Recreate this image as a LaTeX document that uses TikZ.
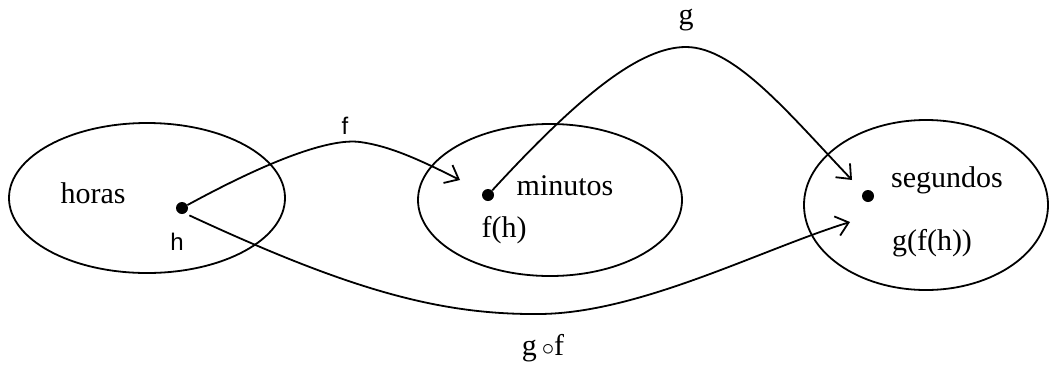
\documentclass[tikz,border=0pt]{standalone}
\usepackage{fontspec}
\setmainfont{Liberation Serif}
\newfontfamily\lblsans{Liberation Sans}
\usetikzlibrary{arrows.meta}
\begin{document}
\begin{tikzpicture}[x=1pt,y=-1pt,
  set/.style={draw,line width=1.8pt},
  dotnode/.style={circle,fill=black,inner sep=0pt,minimum size=12pt},
  txt/.style={font=\fontsize{30}{34}\selectfont,inner sep=0pt},
  sml/.style={font=\lblsans\fontsize{24}{28}\selectfont,inner sep=0pt},
  conn/.style={line width=1.8pt,-{Straight Barb[length=12pt,width=20pt,line width=1.8pt]}}]
\useasboundingbox (0,0) rectangle (1049,365);
\draw[set] (147,198) ellipse [x radius=138,y radius=75];
\draw[set] (550,200) ellipse [x radius=132,y radius=76];
\draw[set] (926,205) ellipse [x radius=122,y radius=85];
\node[dotnode] (h) at (182,208) {};
\node[dotnode] (m) at (488,195) {};
\node[dotnode] (s) at (868,196) {};
\node[txt] (horas) at (93,193) {horas};
\node[sml] (hl) at (177,242) {h};
\node[txt] (minutos) at (565,186) {minutos};
\node[txt] (fh) at (504,230) {f(h)};
\node[txt] (segundos) at (947,180) {segundos};
\node[txt] (gfh) at (932,243) {g(f(h))};
\node[sml] (fl) at (345,126) {f};
\node[txt] (gl) at (686,20) {g};
\node[txt] (gofl) at (543,348) {g\,$\circ$f};
\coordinate (ft) at (460,180);
\coordinate (gt) at (852,180);
\coordinate (gft) at (850,222);
\draw[conn] (h) .. controls (270,160) and (330,138) .. (360,142) .. controls (390,146) and (420,160) .. (ft);
\draw[conn] (m) .. controls (580,95) and (640,47) .. (686,47) .. controls (735,47) and (790,115) .. (gt);
\draw[conn] (h.south east) ++(3,3) .. controls (350,290) and (440,315) .. (540,314) .. controls (640,313) and (760,250) .. (gft);
\end{tikzpicture}
\end{document}
